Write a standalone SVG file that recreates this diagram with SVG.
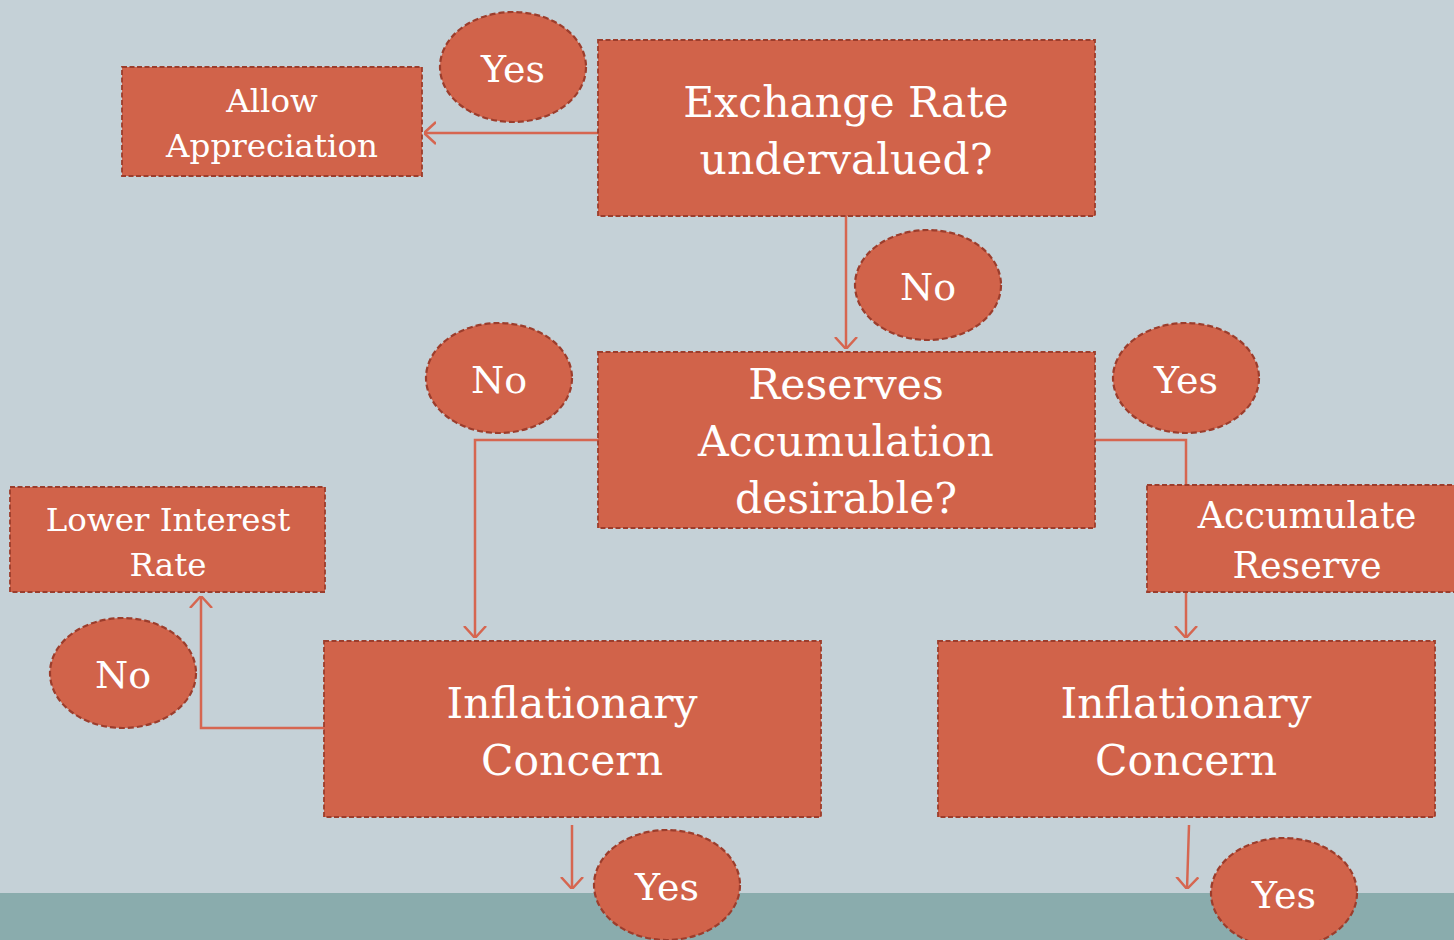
<svg xmlns="http://www.w3.org/2000/svg" width="1454" height="940" viewBox="0 0 1454 940">
<defs>
<style>
.box{fill:#D1634A;stroke:#9C3D2C;stroke-width:1.8;stroke-dasharray:5 2.5}
.ell{fill:#D1634A;stroke:#9C3D2C;stroke-width:2.2;stroke-dasharray:6 3}
.t{font-family:"DejaVu Serif","Liberation Serif",serif;fill:#FFFFFF;text-anchor:middle}
.big{font-size:42.5px}
.mid{font-size:36.5px}
.sm{font-size:32.5px}
.lab{font-size:38px}
.con{fill:none;stroke:#D66650;stroke-width:2.5}
</style>
<marker id="ah" viewBox="0 0 12 24" refX="12" refY="12" markerWidth="12" markerHeight="24" markerUnits="userSpaceOnUse" orient="auto">
<path d="M0,1 L12,12 L0,23" fill="none" stroke="#D66650" stroke-width="2.5"/>
</marker>
</defs>
<rect x="0" y="0" width="1454" height="940" fill="#C5D1D7"/>
<rect x="0" y="893" width="1454" height="47" fill="#8AACAD"/>
<g id="connectors">
<path class="con" d="M598,133 H424" marker-end="url(#ah)"/>
<path class="con" d="M846,216 V349" marker-end="url(#ah)"/>
<path class="con" d="M598,440 H475 V638" marker-end="url(#ah)"/>
<path class="con" d="M1095,440 H1186 V485"/>
<path class="con" d="M1186,592 V638" marker-end="url(#ah)"/>
<path class="con" d="M324,728 H201 V596" marker-end="url(#ah)"/>
<path class="con" d="M572,825 V889" marker-end="url(#ah)"/>
<path class="con" d="M1189,825 L1187,889" marker-end="url(#ah)"/>
</g>
<g id="exchange">
<rect class="box" x="598" y="40" width="497" height="176"/>
<text class="t big" x="846" y="117">Exchange Rate</text>
<text class="t big" x="846" y="174">undervalued?</text>
</g>
<g id="allow">
<rect class="box" x="122" y="67" width="300" height="109"/>
<text class="t sm" x="272" y="112">Allow</text>
<text class="t sm" x="272" y="157">Appreciation</text>
</g>
<g id="yes1">
<ellipse class="ell" cx="513" cy="67" rx="73" ry="55"/>
<text class="t lab" x="513" y="82">Yes</text>
</g>
<g id="no1">
<ellipse class="ell" cx="928" cy="285" rx="73" ry="55"/>
<text class="t lab" x="928" y="300">No</text>
</g>
<g id="reserves">
<rect class="box" x="598" y="352" width="497" height="176"/>
<text class="t big" x="846" y="399">Reserves</text>
<text class="t big" x="846" y="456">Accumulation</text>
<text class="t big" x="846" y="513">desirable?</text>
</g>
<g id="no2">
<ellipse class="ell" cx="499" cy="378" rx="73" ry="55"/>
<text class="t lab" x="499" y="393">No</text>
</g>
<g id="yes2">
<ellipse class="ell" cx="1186" cy="378" rx="73" ry="55"/>
<text class="t lab" x="1186" y="393">Yes</text>
</g>
<g id="accumulate">
<rect class="box" x="1147" y="485" width="312" height="107"/>
<text class="t mid" x="1307" y="528">Accumulate</text>
<text class="t mid" x="1307" y="578">Reserve</text>
</g>
<g id="lower">
<rect class="box" x="10" y="487" width="315" height="105"/>
<text class="t sm" x="168" y="531">Lower Interest</text>
<text class="t sm" x="168" y="576">Rate</text>
</g>
<g id="no3">
<ellipse class="ell" cx="123" cy="673" rx="73" ry="55"/>
<text class="t lab" x="123" y="688">No</text>
</g>
<g id="infl1">
<rect class="box" x="324" y="641" width="497" height="176"/>
<text class="t big" x="572" y="718">Inflationary</text>
<text class="t big" x="572" y="775">Concern</text>
</g>
<g id="infl2">
<rect class="box" x="938" y="641" width="497" height="176"/>
<text class="t big" x="1186" y="718">Inflationary</text>
<text class="t big" x="1186" y="775">Concern</text>
</g>
<g id="yes3">
<ellipse class="ell" cx="667" cy="885" rx="73" ry="55"/>
<text class="t lab" x="667" y="900">Yes</text>
</g>
<g id="yes4">
<ellipse class="ell" cx="1284" cy="893" rx="73" ry="55"/>
<text class="t lab" x="1284" y="908">Yes</text>
</g>
</svg>
